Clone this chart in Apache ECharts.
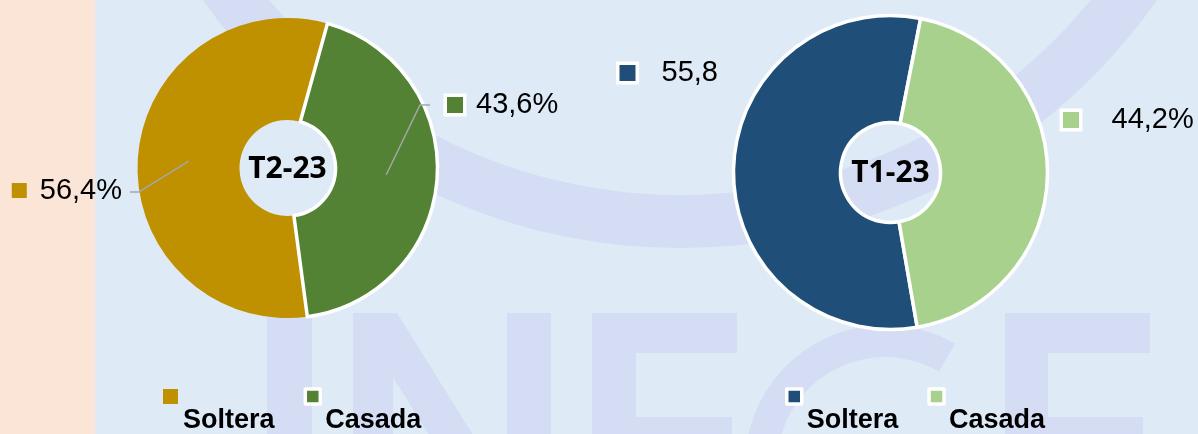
<!DOCTYPE html>
<html>
<head>
<meta charset="utf-8">
<script src="https://cdn.jsdelivr.net/npm/echarts@6/dist/echarts.min.js"></script>
<style>html,body{margin:0;padding:0;}#c{width:1198px;height:434px;}</style>
</head>
<body>
<div id="c"></div>
<script>
// ---- data ----
const categories = ['Soltera', 'Casada'];
const periods = ['T2-23', 'T1-23'];
const valuesT2 = [56.4, 43.6];
const valuesT1 = [55.8, 44.2];
const colorsT2 = ['#BF9000', '#548235'];
const colorsT1 = ['#1F4E79', '#A9D18E'];
const suffixT2 = ['%', '%'];
const suffixT1 = ['', '%'];

// ---- layout ----
const pies = [
  { values: valuesT2, colors: colorsT2, suffix: suffixT2, period: periods[0],
    center: [287.5, 168], radius: [48, 150], startAngle: -82.4,
    borders: [0, 3.5], sq: [15, 16], gaps: [13, 13], showLine: true,
    lab: [ { dx: -165.5, dy: 22.5, align: 'right', elbow: [-148.5, 24], end: [-157.5, 24] },
           { dx: 159.5, dy: -63, align: 'left', elbow: [132.5, -63], end: [142.5, -63] } ] },
  { values: valuesT1, colors: colorsT1, suffix: suffixT1, period: periods[1],
    center: [890.5, 172.5], radius: [50, 157], startAngle: -80.2,
    borders: [3.5, 3.5], sq: [16, 16], gaps: [26, 32.5], showLine: false,
    lab: [ { dx: -271, dy: -99.5, align: 'left' },
           { dx: 172.5, dy: -52.5, align: 'left' } ] }
];

function fmt(v, s) { return v.toFixed(1).replace('.', ',') + s; }

function pieBase(p) {
  return {
    type: 'pie',
    center: p.center,
    radius: p.radius,
    startAngle: p.startAngle,
    clockwise: true,
    avoidLabelOverlap: false,
    animation: false,
    emphasis: { disabled: true }
  };
}

const series = [];
// slices
pies.forEach(function (p) {
  const s = pieBase(p);
  s.z = 2;
  s.data = categories.map(function (name, i) {
    return { name: name, value: p.values[i],
      itemStyle: { color: p.colors[i], borderColor: '#ffffff', borderWidth: p.borders[i] } };
  });
  s.label = { show: false };
  s.labelLine = { show: false };
  series.push(s);
});
// labels + leader lines drawn on top of the slices
pies.forEach(function (p) {
  const rich = {};
  p.colors.forEach(function (c, i) {
    rich['sq' + i] = { width: p.sq[i], height: p.sq[i], backgroundColor: c,
      borderColor: '#ffffff', borderWidth: p.borders[i] };
    rich['g' + i] = { width: p.gaps[i] };
  });
  rich.t = { fontSize: 29, fontFamily: 'Liberation Sans', color: '#000', lineHeight: 32 };
  const s = pieBase(p);
  s.z = 5;
  s.silent = true;
  s.data = categories.map(function (name, i) {
    return { name: name, value: p.values[i],
      itemStyle: { color: 'rgba(0,0,0,0)', borderWidth: 0 } };
  });
  s.label = {
    show: true, position: 'outside',
    formatter: function (prm) {
      const i = prm.dataIndex;
      return '{sq' + i + '| }{g' + i + '|}{t|' + fmt(p.values[i], p.suffix[i]) + '}';
    },
    rich: rich
  };
  s.labelLine = { show: p.showLine, showAbove: true, lineStyle: { color: '#A6A6A6', width: 1.5 } };
  s.labelLayout = function (prm) {
    const i = prm.dataIndex;
    const L = p.lab[i];
    const cx = p.center[0], cy = p.center[1];
    const total = p.values.reduce(function (a, b) { return a + b; }, 0);
    let before = 0;
    for (let k = 0; k < i; k++) before += p.values[k];
    const mid = (p.startAngle - (before + p.values[i] / 2) / total * 360) * Math.PI / 180;
    const rm = (p.radius[0] + p.radius[1]) / 2;
    const res = { x: cx + L.dx, y: cy + L.dy, align: L.align, verticalAlign: 'middle' };
    if (p.showLine) {
      res.labelLinePoints = [
        [cx + rm * Math.cos(mid), cy - rm * Math.sin(mid)],
        [cx + L.elbow[0], cy + L.elbow[1]],
        [cx + L.end[0], cy + L.end[1]]
      ];
    }
    return res;
  };
  series.push(s);
});

const wm = '#D5DDF5';
const graphics = [
  { type: 'rect', shape: { x: 0, y: 0, width: 95, height: 434 }, style: { fill: '#FBE5D6' }, z: -10, silent: true },
  { type: 'ring', shape: { cx: 680, cy: -335, r: 583, r0: 530 }, style: { fill: wm }, z: -10, silent: true },
  { type: 'rect', shape: { x: 267, y: 313, width: 45, height: 130 }, style: { fill: wm }, z: -10, silent: true },
  { type: 'rect', shape: { x: 353, y: 313, width: 40, height: 130 }, style: { fill: wm }, z: -10, silent: true },
  { type: 'rect', shape: { x: 507, y: 313, width: 44, height: 130 }, style: { fill: wm }, z: -10, silent: true },
  { type: 'polygon', shape: { points: [[353, 313], [397, 313], [551, 560], [507, 560]] }, style: { fill: wm }, z: -10, silent: true },
  { type: 'rect', shape: { x: 592, y: 313, width: 44, height: 130 }, style: { fill: wm }, z: -10, silent: true },
  { type: 'rect', shape: { x: 636, y: 313, width: 101, height: 40 }, style: { fill: wm }, z: -10, silent: true },
  { type: 'rect', shape: { x: 636, y: 417, width: 96, height: 30 }, style: { fill: wm }, z: -10, silent: true },
  { type: 'sector', shape: { cx: 885, cy: 465, r: 140, r0: 108, startAngle: 150 * Math.PI / 180, endAngle: 300 * Math.PI / 180, clockwise: true }, style: { fill: wm }, z: -10, silent: true },
  { type: 'rect', shape: { x: 1005, y: 313, width: 43, height: 130 }, style: { fill: wm }, z: -10, silent: true },
  { type: 'rect', shape: { x: 1048, y: 313, width: 102, height: 40 }, style: { fill: wm }, z: -10, silent: true },
  { type: 'rect', shape: { x: 1048, y: 417, width: 95, height: 30 }, style: { fill: wm }, z: -10, silent: true }
];
pies.forEach(function (p) {
  graphics.push({ type: 'text', x: p.center[0], y: p.center[1] + 1, z: 10,
    style: { text: p.period, align: 'center', verticalAlign: 'middle', fill: '#000',
      font: 'bold 30px "Noto Sans"' } });
});

function legendFor(p, left) {
  return {
    left: left, top: 348.5, orient: 'horizontal', padding: 0,
    itemWidth: 15, itemHeight: 15, itemGap: 29, icon: 'rect',
    selectedMode: false,
    formatter: function (name) { return '\n' + name; },
    textStyle: { fontSize: 27, fontWeight: 'bold', fontFamily: 'Liberation Sans', color: '#000',
      lineHeight: 48 },
    data: categories.map(function (name, i) {
      return { name: name, itemStyle: { color: p.colors[i], borderColor: '#ffffff', borderWidth: p.borders[i] } };
    })
  };
}

const chart = echarts.init(document.getElementById('c'), null, { renderer: 'canvas' });
chart.setOption({
  backgroundColor: '#DEEAF6',
  animation: false,
  legend: [legendFor(pies[0], 163), legendFor(pies[1], 785)],
  graphic: { elements: graphics },
  series: series
});
</script>
</body>
</html>
